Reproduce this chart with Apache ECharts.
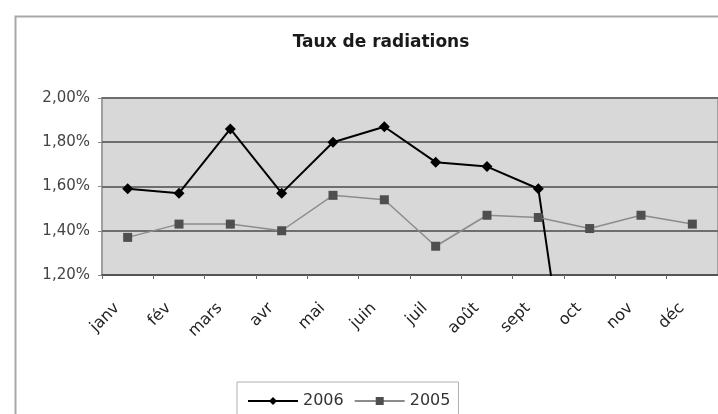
<!DOCTYPE html>
<html>
<head>
<meta charset="utf-8">
<script src="https://cdn.jsdelivr.net/npm/echarts@6/dist/echarts.min.js"></script>
<style>
  html, body { margin: 0; padding: 0; background: #fff; }
  #chart { width: 718px; height: 414px; }
</style>
</head>
<body>
<div id="chart"></div>
<script>
// mois
var months = ['janv', 'fév', 'mars', 'avr', 'mai', 'juin', 'juil', 'août', 'sept', 'oct', 'nov', 'déc'];
// taux en %
var taux2006 = [1.59, 1.57, 1.86, 1.57, 1.80, 1.87, 1.71, 1.69, 1.59, 0, 0, 0];
var taux2005 = [1.37, 1.43, 1.43, 1.40, 1.56, 1.54, 1.33, 1.47, 1.46, 1.41, 1.47, 1.43];
var yTicks = [1.2, 1.4, 1.6, 1.8, 2.0];

var chart = echarts.init(document.getElementById('chart'));

var option = {
  animation: false,
  textStyle: { fontFamily: 'DejaVu Sans, sans-serif' },
  // cadre du graphique
  graphic: [{
    type: 'rect',
    left: 13, top: 14,
    shape: { width: 730, height: 430 },
    style: { fill: 'none', stroke: '#a8a8a8', lineWidth: 2 },
    silent: true
  }],
  title: {
    text: 'Taux de radiations',
    left: 376,
    textAlign: 'center',
    top: 29,
    textStyle: { fontSize: 17, fontWeight: 'bold', color: '#1a1a1a' }
  },
  legend: {
    left: 237,
    top: 382,
    width: 226,
    padding: [11, 8, 14, 10],
    itemGap: 10,
    itemWidth: 50,
    itemHeight: 10,
    borderColor: '#b0b0b0',
    borderWidth: 1,
    textStyle: { fontSize: 16, color: '#333' },
    data: ['2006', '2005']
  },
  grid: {
    left: 102,
    top: 98,
    right: -13,
    bottom: 139,
    show: true,
    backgroundColor: '#d8d8d8',
    borderColor: '#a0a0a0',
    borderWidth: 2
  },
  xAxis: {
    type: 'category',
    data: months,
    boundaryGap: true,
    axisLine: { lineStyle: { color: '#555', width: 2 } },
    axisTick: { show: true, length: 4, lineStyle: { color: '#666' } },
    axisLabel: {
      rotate: 45,
      fontSize: 16,
      color: '#222',
      margin: 20,
      padding: [0, 15, 0, 0]
    }
  },
  yAxis: {
    type: 'value',
    min: yTicks[0],
    max: yTicks[yTicks.length - 1],
    interval: 0.2,
    axisLine: { show: false },
    axisTick: { show: true, length: 4, lineStyle: { color: '#888' } },
    axisLabel: {
      fontSize: 15,
      color: '#444',
      margin: 12,
      formatter: function (v) { return v.toFixed(2).replace('.', ',') + '%'; }
    },
    splitLine: { lineStyle: { color: '#6e6e6e', width: 2 } }
  },
  series: [
    {
      name: '2006',
      type: 'line',
      data: taux2006,
      clip: true,
      symbol: 'diamond',
      symbolSize: 11,
      lineStyle: { color: '#000', width: 2 },
      itemStyle: { color: '#000' }
    },
    {
      name: '2005',
      type: 'line',
      data: taux2005,
      clip: true,
      symbol: 'rect',
      symbolSize: 9,
      lineStyle: { color: '#8c8c8c', width: 1.5 },
      itemStyle: { color: '#4f4f4f' }
    }
  ]
};

chart.setOption(option);
</script>
</body>
</html>
